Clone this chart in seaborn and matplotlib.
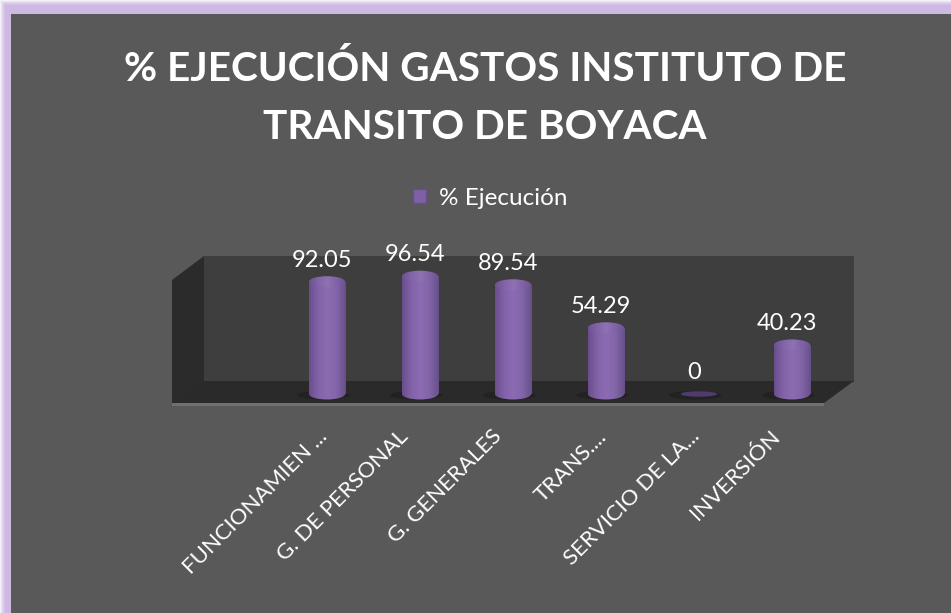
import numpy as np
import pandas as pd
import matplotlib
matplotlib.use("Agg")
import matplotlib.pyplot as plt
import seaborn as sns
from matplotlib.colors import LinearSegmentedColormap
from matplotlib.patches import Ellipse, Patch, Polygon
from matplotlib.transforms import ScaledTranslation

# Datos del grafico
categorias = ["FUNCIONAMIEN ...", "G. DE PERSONAL", "G. GENERALES",
              "TRANS....", "SERVICIO DE LA...", "INVERSIÓN"]
ejecucion = [92.05, 96.54, 89.54, 54.29, 0, 40.23]
etiquetas = ["92.05", "96.54", "89.54", "54.29", "0", "40.23"]
titulo = "% EJECUCIÓN GASTOS INSTITUTO DE\nTRANSITO DE BOYACA"
serie = "% Ejecución"

W, H = 951, 613
FONDO = "#595959"
LILA = "#CDB9E2"

sns.set_theme(style="white")
plt.rcParams["font.family"] = ["Lato", "DejaVu Sans"]

fig = plt.figure(figsize=(W / 100, H / 100), dpi=100, facecolor="white")


def poly(puntos, color, z=-1):
    # puntos en pixeles de la imagen (origen arriba a la izquierda)
    pts = [(x / W, 1 - y / H) for x, y in puntos]
    fig.add_artist(Polygon(pts, closed=True, transform=fig.transFigure,
                           facecolor=color, edgecolor="none", zorder=z))


# Marco lila con brillo hacia el borde
for paso, mezcla in zip(range(6), [0.2, 0.4, 0.6, 0.75, 0.9, 1.0]):
    c = (1 - mezcla) * np.array([1, 1, 1]) + mezcla * np.array(matplotlib.colors.to_rgb(LILA))
    poly([(paso, paso), (W + 5, paso), (W + 5, H + 5), (paso, H + 5)], tuple(c), z=-5 + paso * 0.1)
poly([(11, 14), (W + 5, 14), (W + 5, H + 5), (11, H + 5)], FONDO, z=-3)

# Caja 3D: pared de fondo, pared izquierda, piso y borde
poly([(204, 256), (854, 256), (854, 382), (204, 382)], "#3E3E3E")
poly([(172, 280), (204, 256), (204, 382), (172, 404)], "#2B2B2B")
poly([(172, 403), (204, 381), (854, 381), (824, 403)], "#2A2A2A")
poly([(172, 403), (824, 403), (824, 406), (172, 406)], "#6F6F6F")

ax = fig.add_axes([172 / W, 1 - 404 / H, (825 - 172) / W, (404 - 256) / H])
ax.set_zorder(5)
ax.patch.set_alpha(0)

df = pd.DataFrame({"categoria": categorias, "valor": ejecucion})
sns.barplot(data=df, x="categoria", y="valor", color="#7F60A6", width=0.39,
            saturation=1, linewidth=0, ax=ax)
barras = list(ax.patches)

cuerpo = LinearSegmentedColormap.from_list(
    "cuerpo", ["#6A4E8C", "#8263A9", "#8C6BB2", "#8265A8", "#67508A"])
tapa = LinearSegmentedColormap.from_list(
    "tapa", ["#6E5292", "#8264A8", "#8E72B2", "#8063A6", "#6E5292"])
X_LIM = (-1.667, 5.355)
Y_LIM = (-8.2, 113.1)
ALTO_ELIPSE = 9


def sombrear(patch, mapa, caja, z):
    im = ax.imshow(np.linspace(0, 1, 64).reshape(1, -1), cmap=mapa, extent=caja,
                   aspect="auto", zorder=z, interpolation="bilinear")
    im.set_clip_path(patch)


for barra, valor in zip(barras, ejecucion):
    x0 = barra.get_x()
    ancho = barra.get_width()
    cx = x0 + ancho / 2
    # sombra sobre el piso
    ax.add_patch(Ellipse((cx - 0.04, -1), ancho * 1.45, ALTO_ELIPSE * 0.8,
                         facecolor="#1F1F1F", edgecolor="none", alpha=0.7, zorder=2))
    if valor == 0:
        barra.set_visible(False)
        ax.add_patch(Ellipse((cx, 0), ancho, 4.5, facecolor="#4F3B6E",
                             edgecolor="none", zorder=3))
        continue
    barra.set_zorder(3)
    base = Ellipse((cx, 0), ancho, ALTO_ELIPSE, facecolor="none", edgecolor="none", zorder=3)
    top = Ellipse((cx, valor), ancho, ALTO_ELIPSE, facecolor="none", edgecolor="none", zorder=5)
    ax.add_patch(base)
    ax.add_patch(top)
    sombrear(barra, cuerpo, (x0, x0 + ancho, 0, valor), 3)
    sombrear(base, cuerpo, (x0, x0 + ancho, -ALTO_ELIPSE, ALTO_ELIPSE), 3)
    sombrear(top, tapa, (x0, x0 + ancho, valor - ALTO_ELIPSE, valor + ALTO_ELIPSE), 5)

# Etiquetas de datos
for i, (valor, txt) in enumerate(zip(ejecucion, etiquetas)):
    ax.annotate(txt, (i, valor), xytext=(-3.6, 15.5), textcoords="offset points",
                ha="center", va="center", color="white", fontsize=17, zorder=8,
                annotation_clip=False)

ax.set_xlim(*X_LIM)
ax.set_ylim(*Y_LIM)
ax.set_xlabel("")
ax.set_ylabel("")
ax.set_yticks([])
ax.set_xticks(range(len(categorias)))
ax.set_xticklabels(categorias, rotation=45, ha="right", va="top", rotation_mode="anchor",
                   color="white", fontsize=16)
ax.tick_params(axis="x", length=0, pad=16)
sns.despine(ax=ax, left=True, bottom=True)

# Las etiquetas recortadas quedan mas a la derecha que las completas
for lab in ax.get_xticklabels():
    dx = -10 if lab.get_text().endswith("...") else -22
    lab.set_transform(lab.get_transform() + ScaledTranslation(dx / 100, 0, fig.dpi_scale_trans))

ax.legend(handles=[Patch(facecolor="#7F60A6", edgecolor="#6A4E8C", label=serie)],
          loc="center", bbox_to_anchor=(490 / W, 1 - 198 / H), bbox_transform=fig.transFigure,
          frameon=False, fontsize=17.5, labelcolor="white", handlelength=0.55, handleheight=0.55,
          handletextpad=0.5)

fig.text(485 / W, 1 - 98 / H, titulo, ha="center", va="center", color="white",
         fontsize=29.2, fontweight="bold", linespacing=1.72)

fig.savefig("out.png", dpi=100, facecolor=fig.get_facecolor())
